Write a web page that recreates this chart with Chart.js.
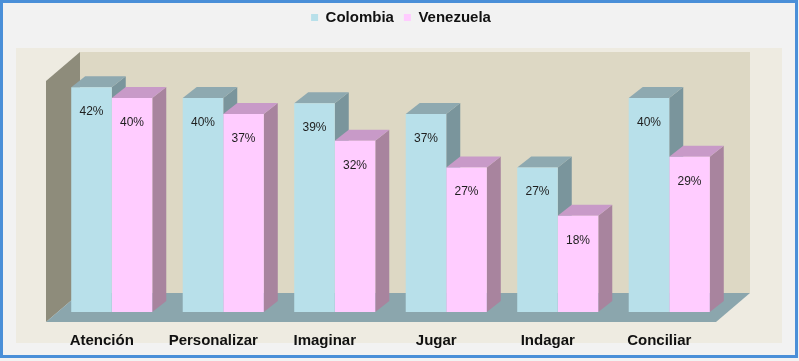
<!DOCTYPE html>
<html>
<head>
<meta charset="utf-8">
<script src="https://cdn.jsdelivr.net/npm/chart.js@4.4.1/dist/chart.umd.min.js"></script>
<style>
  html, body { margin: 0; padding: 0; background: #f2f2f2; }
  #wrap { width: 799px; height: 361px; }
</style>
</head>
<body>
<div id="wrap"><canvas id="chart" width="799" height="361"></canvas></div>
<script>
// data
const categories = ["Atención", "Personalizar", "Imaginar", "Jugar", "Indagar", "Conciliar"];
const colombia = [42, 40, 39, 37, 27, 40];
const venezuela = [40, 37, 32, 27, 18, 29];

const FONT = "'Liberation Sans', Arial, sans-serif";

// colours of each box: front, top, side
const boxColors = [
  { front: "#b8e0ea", top: "#8ea9b0", side: "#7a959c" },
  { front: "#ffccff", top: "#c89ac8", side: "#a8849e" },
];

// depth of the bars and of the floor/walls
const BAR_DX = 14, BAR_DY = -11;
const ROOM_DX = 34, ROOM_DY = -29;

function poly(ctx, pts, color) {
  ctx.beginPath();
  ctx.moveTo(pts[0][0], pts[0][1]);
  for (let i = 1; i < pts.length; i++) ctx.lineTo(pts[i][0], pts[i][1]);
  ctx.closePath();
  ctx.fillStyle = color;
  ctx.fill();
}

// background, panel, walls and floor
const roomPlugin = {
  id: "room",
  beforeDraw(chart) {
    const ctx = chart.ctx;
    const a = chart.chartArea;
    ctx.save();
    ctx.fillStyle = "#f2f2f2";
    ctx.fillRect(0, 0, chart.width, chart.height);

    // inner panel
    ctx.fillStyle = "#eeebe1";
    ctx.fillRect(16, 48, 766, 295);

    // floor front edge and back edge
    const fy = a.bottom + 10;
    const fl = a.left - 10, fr = a.right - 9;
    const by = fy + ROOM_DY;

    // back wall
    ctx.fillStyle = "#ddd8c4";
    ctx.fillRect(fl + ROOM_DX, 52, fr - fl, by - 52);

    // left wall
    poly(ctx, [[fl, 52 - ROOM_DY], [fl + ROOM_DX, 52], [fl + ROOM_DX, by], [fl, fy]], "#8e8c7b");

    // floor
    poly(ctx, [[fl, fy], [fr, fy], [fr + ROOM_DX, by], [fl + ROOM_DX, by]], "#8ba6ad");

    // blue frame
    ctx.strokeStyle = "#4a8fd8";
    ctx.lineWidth = 3;
    ctx.strokeRect(1.5, 1.5, 795, 355);
    ctx.restore();
  },
  // tops and sides of the bars, drawn before the fronts
  beforeDatasetsDraw(chart) {
    const ctx = chart.ctx;
    ctx.save();
    for (let i = 0; i < categories.length; i++) {
      chart.data.datasets.forEach((ds, d) => {
        const el = chart.getDatasetMeta(d).data[i];
        const l = el.x - el.width / 2, r = el.x + el.width / 2;
        const t = el.y, b = el.base;
        poly(ctx, [[r, t], [r + BAR_DX, t + BAR_DY], [r + BAR_DX, b + BAR_DY], [r, b]], boxColors[d].side);
        poly(ctx, [[l, t], [r, t], [r + BAR_DX, t + BAR_DY], [l + BAR_DX, t + BAR_DY]], boxColors[d].top);
      });
    }
    ctx.restore();
  },
  // value labels inside the top of each bar
  afterDatasetsDraw(chart) {
    const ctx = chart.ctx;
    ctx.save();
    ctx.font = "12px " + FONT;
    ctx.fillStyle = "#1e1e1e";
    ctx.textAlign = "center";
    ctx.textBaseline = "alphabetic";
    chart.data.datasets.forEach((ds, d) => {
      chart.getDatasetMeta(d).data.forEach((el, i) => {
        ctx.fillText(ds.data[i] + "%", el.x, el.y + 28);
      });
    });
    ctx.restore();
  },
};

new Chart(document.getElementById("chart"), {
  type: "bar",
  data: {
    labels: categories,
    datasets: [
      { label: "Colombia", data: colombia, backgroundColor: boxColors[0].front, borderWidth: 0 },
      { label: "Venezuela", data: venezuela, backgroundColor: boxColors[1].front, borderWidth: 0 },
    ],
  },
  options: {
    responsive: false,
    animation: false,
    layout: { padding: { left: 56, right: 53, top: 0, bottom: 0 } },
    datasets: { bar: { barPercentage: 1, categoryPercentage: 0.727 } },
    plugins: {
      legend: {
        position: "top",
        labels: {
          boxWidth: 7,
          boxHeight: 7,
          padding: 10,
          color: "#111",
          font: { family: FONT, size: 15, weight: "bold" },
        },
      },
      tooltip: { enabled: false },
    },
    scales: {
      x: {
        grid: { display: false, drawTicks: false },
        border: { display: false },
        ticks: {
          color: "#111",
          padding: 20,
          labelOffset: -10,
          font: { family: FONT, size: 15, weight: "bold" },
        },
        afterFit: (s) => { s.height = 49; },
      },
      y: {
        position: "right",
        min: 0,
        max: 51.75,
        grid: { display: false, drawTicks: false },
        border: { display: false },
        ticks: { display: false },
        afterFit: (s) => { s.width = 21; },
      },
    },
  },
  plugins: [roomPlugin],
});
</script>
</body>
</html>
